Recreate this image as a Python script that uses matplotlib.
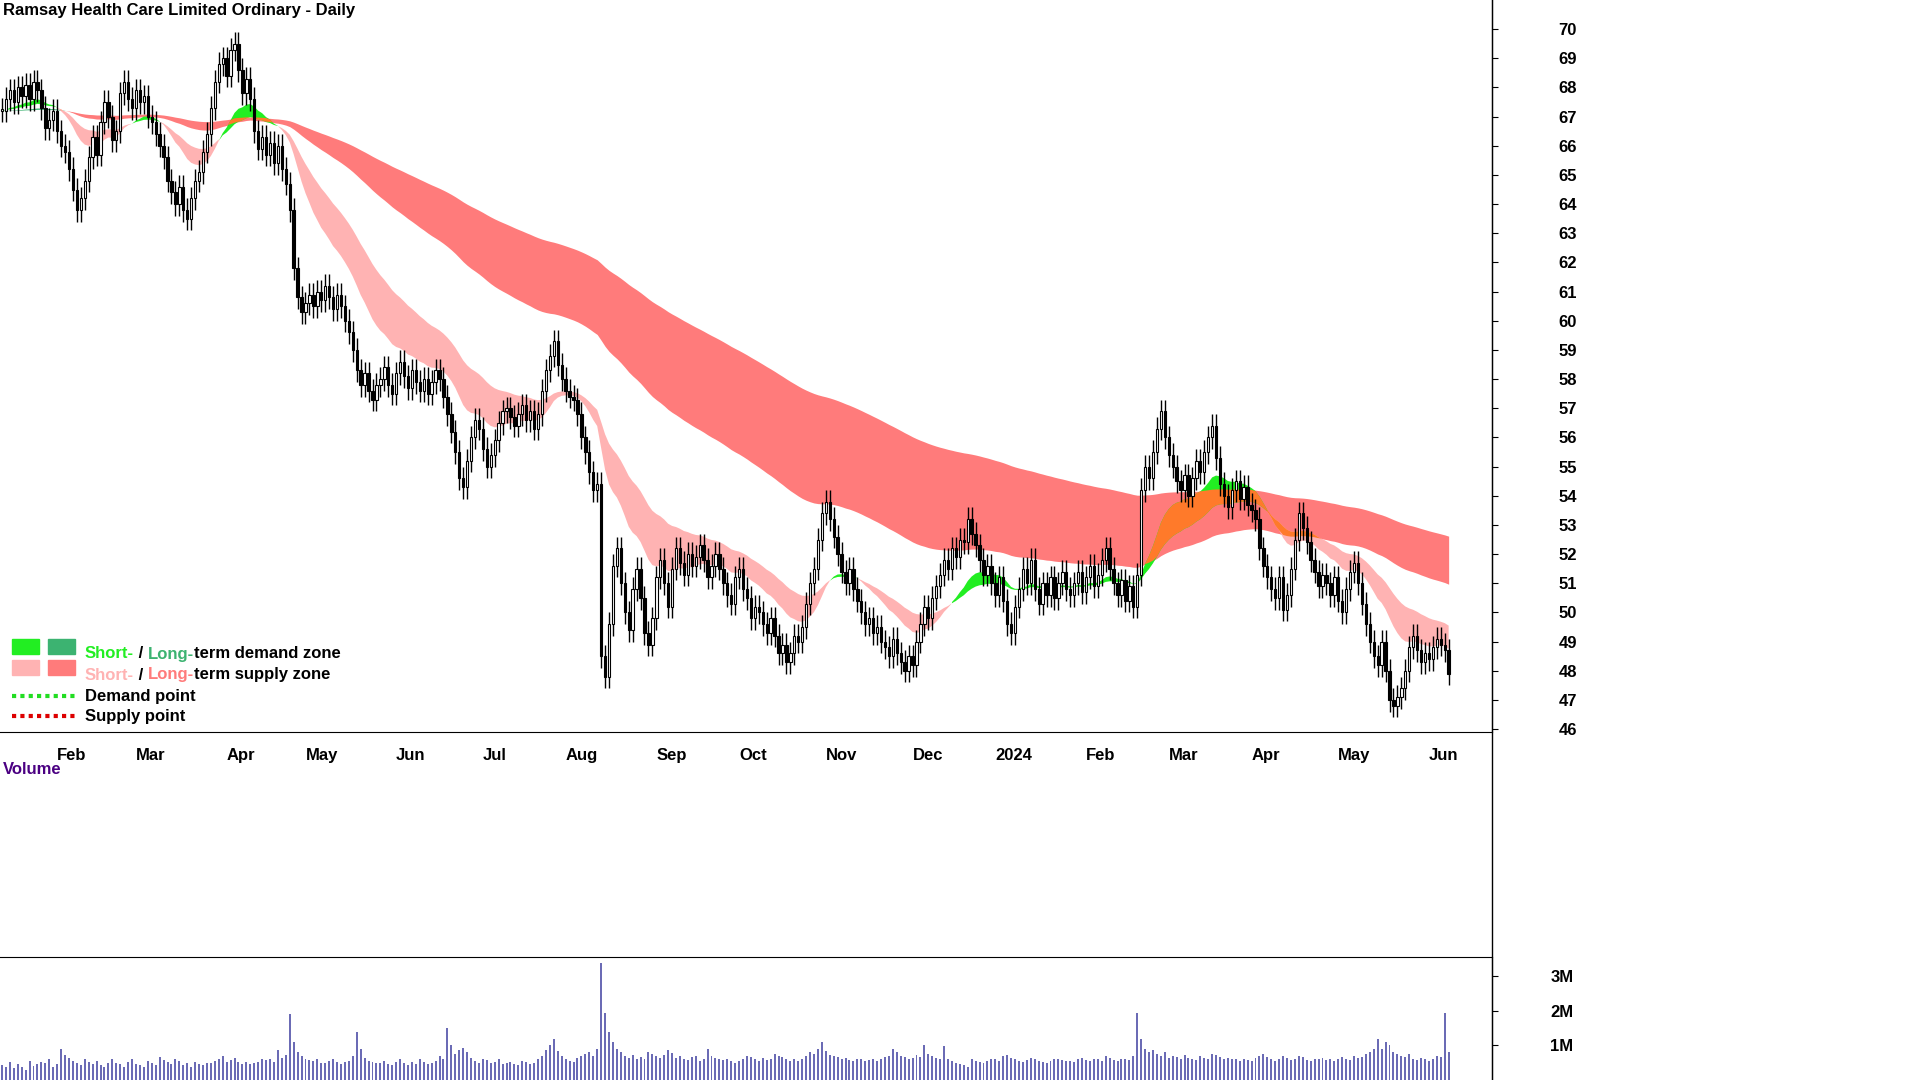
import matplotlib
matplotlib.use('Agg')
import matplotlib.pyplot as plt
from matplotlib.patches import Rectangle
import numpy as np
import pandas as pd

plt.rcParams['font.family'] = ['Liberation Sans', 'DejaVu Sans']
plt.rcParams['font.weight'] = 'bold'

# Daily closes, month by month (Jan 2023 from the 18th .. Jun 2024)
close_jan23 = [67.2, 67.6, 67.9, 67.5, 68.0, 67.7, 68.1, 67.6, 68.2, 67.9]
close_feb23 = [67.3, 66.6, 66.9, 67.2, 66.5, 66.0, 65.8, 65.2, 64.5, 63.8, 64.2, 64.8, 65.6, 66.3, 65.7,
               66.8, 67.5, 67.0, 66.2, 66.5]
close_mar23 = [67.8, 68.2, 67.6, 67.3, 67.9, 67.5, 67.7, 67.0, 66.8, 66.4, 66.0, 65.6, 64.8, 64.4, 64.0,
               64.6, 63.8, 63.5, 64.2, 64.8, 65.1, 65.8, 66.4]
close_apr23 = [67.3, 68.2, 68.8, 69.0, 68.4, 69.3, 69.5, 68.6, 67.8, 68.3, 67.6, 66.5, 65.9, 66.3, 65.7,
               66.1, 65.4, 66.0, 65.2, 64.7]
close_may23 = [63.8, 61.8, 60.8, 60.3, 60.6, 60.9, 60.5, 61.0, 60.7, 61.2, 60.8, 60.4, 60.9, 60.5, 60.0,
               59.6, 59.0, 58.3, 57.8, 58.2, 57.6, 57.3, 57.8]
close_jun23 = [58.0, 58.4, 57.8, 57.5, 58.2, 58.6, 58.1, 57.7, 58.3, 57.9, 57.6, 58.0, 57.5, 57.9, 58.3,
               58.0, 57.4, 56.8, 56.2, 55.5, 54.6, 54.3]
close_jul23 = [55.2, 56.0, 56.6, 56.3, 55.6, 55.0, 55.4, 55.9, 56.5, 56.9, 57.0, 56.7, 56.4, 56.8, 57.1,
               56.6, 56.9, 56.3, 56.8, 57.6, 58.3]
close_aug23 = [58.8, 59.3, 58.5, 58.0, 57.6, 57.4, 57.3, 56.8, 56.0, 55.5, 54.8, 54.2, 54.4, 48.5, 47.8,
               49.6, 51.6, 52.2, 51.0, 50.0, 49.4, 50.8, 51.5]
close_sep23 = [50.5, 49.3, 48.9, 49.8, 51.2, 51.8, 51.0, 50.2, 51.5, 52.2, 51.7, 51.3, 52.0, 51.6, 51.9,
               52.3, 51.8, 51.2, 51.6, 52.0, 51.5]
close_oct23 = [51.0, 50.6, 50.3, 51.2, 51.5, 50.8, 50.5, 49.8, 50.2, 50.0, 49.6, 49.3, 49.8, 49.2, 48.6,
               48.9, 48.3, 48.6, 49.2, 49.0, 49.5, 50.3]
close_nov23 = [51.0, 51.5, 52.5, 53.4, 53.8, 53.2, 52.6, 52.0, 51.4, 51.0, 51.5, 50.8, 50.4, 50.0, 49.6,
               49.8, 49.3, 49.5, 49.0, 48.8, 48.5, 49.1]
close_dec23 = [48.6, 48.3, 48.0, 48.5, 48.2, 49.0, 49.6, 50.2, 49.8, 50.5, 50.9, 51.3, 51.8, 51.5, 52.2,
               51.9, 52.5, 52.4, 53.2, 52.7, 52.3]
close_jan24 = [51.8, 51.3, 51.6, 51.0, 50.6, 51.2, 50.4, 49.6, 49.3, 50.2, 50.8, 51.5, 51.0, 51.8, 50.8,
               50.3, 51.0, 50.6, 51.2, 50.5, 51.0, 51.4, 50.8]
close_feb24 = [50.6, 51.0, 51.4, 50.7, 51.2, 51.6, 50.9, 51.3, 51.8, 52.2, 51.5, 51.0, 50.6, 51.1, 50.4,
               50.9, 50.2, 51.3, 54.2, 55.0, 54.6]
close_mar24 = [55.5, 56.3, 56.9, 56.0, 55.4, 55.0, 54.5, 54.2, 54.7, 54.0, 54.6, 55.2, 54.8, 55.5, 56.0,
               56.4, 55.3, 54.4, 54.0, 53.6, 54.2]
close_apr24 = [54.5, 53.9, 54.3, 53.7, 53.5, 53.2, 52.2, 51.6, 51.2, 50.8, 50.5, 51.2, 50.1, 50.6, 51.5,
               52.5, 53.4, 52.9, 52.4, 51.8, 51.4, 50.9]
close_may24 = [51.3, 51.0, 50.6, 51.2, 50.4, 50.0, 50.8, 51.4, 51.7, 51.0, 50.3, 49.6, 49.0, 48.5, 48.2,
               49.0, 48.0, 47.0, 46.8, 47.1, 47.4, 48.0, 48.8]
close_jun24 = [49.2, 48.7, 48.3, 48.6, 48.4, 48.8, 49.1, 48.9, 48.7, 47.9]

# Daily volume in thousands, same months
vol_jan23 = [420, 380, 510, 350, 460, 390, 300, 550, 410, 470]
vol_feb23 = [520, 480, 610, 380, 450, 900, 720, 650, 540, 480, 430, 610, 520, 470, 560, 440, 390, 500, 620, 480]
vol_mar23 = [450, 380, 520, 610, 470, 420, 390, 560, 480, 430, 670, 580, 520, 470, 610, 540, 430, 480, 390, 520,
             460, 430, 500]
vol_apr23 = [480, 560, 620, 700, 520, 580, 640, 510, 470, 530, 450, 490, 520, 610, 570, 600, 520, 880, 650, 720]
vol_may23 = [1900, 1100, 820, 700, 620, 580, 540, 610, 500, 480, 560, 620, 520, 470, 510, 560, 700, 1400, 900, 650,
             560, 520, 480]
vol_jun23 = [500, 560, 470, 430, 520, 610, 480, 440, 530, 470, 600, 520, 450, 490, 560, 700, 620, 1500, 1000, 760,
             880, 920]
vol_jul23 = [820, 650, 560, 500, 620, 580, 490, 530, 600, 450, 480, 520, 470, 430, 560, 510, 450, 490, 620, 700, 880]
vol_aug23 = [1000, 1200, 850, 700, 600, 560, 520, 640, 700, 760, 820, 700, 900, 3400, 1950, 1400, 1100, 900, 820,
             700, 650, 720, 600]
vol_sep23 = [680, 620, 800, 760, 700, 650, 720, 880, 780, 640, 700, 620, 580, 660, 700, 560, 620, 900, 700, 640, 600]
vol_oct23 = [580, 620, 540, 500, 560, 620, 700, 660, 600, 560, 640, 580, 620, 760, 700, 680, 600, 560, 620, 540,
             600, 700]
vol_nov23 = [800, 760, 900, 1100, 850, 720, 700, 660, 600, 640, 580, 560, 620, 600, 540, 580, 620, 560, 600, 660,
             700, 900]
vol_dec23 = [820, 700, 660, 600, 640, 720, 680, 1000, 760, 700, 640, 600, 980, 620, 560, 500, 460, 420, 380, 600, 560]
vol_jan24 = [520, 480, 560, 600, 620, 540, 700, 720, 640, 600, 560, 520, 580, 640, 600, 560, 520, 480, 540, 600,
             620, 580, 560]
vol_feb24 = [560, 520, 600, 640, 580, 540, 620, 600, 560, 700, 640, 580, 560, 620, 600, 580, 700, 1950, 1200, 900, 800]
vol_mar24 = [880, 760, 700, 820, 640, 700, 660, 600, 720, 640, 600, 580, 700, 640, 600, 760, 720, 660, 600, 640, 620]
vol_apr24 = [600, 560, 620, 580, 540, 640, 700, 760, 680, 620, 560, 600, 700, 640, 580, 620, 700, 660, 580, 560,
             620, 600]
vol_may24 = [640, 580, 620, 560, 600, 660, 620, 580, 700, 640, 680, 760, 820, 900, 1200, 900, 1100, 1000, 800, 760,
             700, 680, 740]
vol_jun24 = [620, 580, 640, 600, 560, 620, 700, 660, 1950, 800]

price_ticks = list(range(46, 71))
volume_ticks = [1, 2, 3]
volume_labels = ['1M', '2M', '3M']

GREEN, DGREEN, PINK, RED, ORANGE = '#22ee22', '#3cb371', '#ffb3b3', '#ff7b7b', '#ff7a2a'


def ema(values, span):
    return pd.Series(values).ewm(span=span, adjust=False).mean().to_numpy()


def main():
    close = np.array(close_jan23 + close_feb23 + close_mar23 + close_apr23 + close_may23 + close_jun23
                     + close_jul23 + close_aug23 + close_sep23 + close_oct23 + close_nov23 + close_dec23
                     + close_jan24 + close_feb24 + close_mar24 + close_apr24 + close_may24 + close_jun24)
    volume = np.array(vol_jan23 + vol_feb23 + vol_mar23 + vol_apr23 + vol_may23 + vol_jun23 + vol_jul23
                      + vol_aug23 + vol_sep23 + vol_oct23 + vol_nov23 + vol_dec23 + vol_jan24 + vol_feb24
                      + vol_mar24 + vol_apr24 + vol_may24 + vol_jun24) / 1000.0
    n = len(close)
    dates = pd.bdate_range('2023-01-18', periods=n)
    x = np.arange(n)
    opens = np.concatenate([[close[0]], close[:-1]])

    fig = plt.figure(figsize=(19.2, 10.8), dpi=100)
    W, H = 1920, 1080
    ax = fig.add_axes([0, 1 - 732 / H, 1492 / W, 732 / H])
    axv = fig.add_axes([0, 0, 1492 / W, 123 / H])

    # Zones from moving averages
    s_fast, s_slow = ema(close, 20), ema(close, 40)
    l_fast, l_slow = ema(close, 110), ema(close, 220)
    s_lo, s_hi = np.minimum(s_fast, s_slow), np.maximum(s_fast, s_slow)
    l_lo, l_hi = np.minimum(l_fast, l_slow), np.maximum(l_fast, l_slow)
    s_up = s_fast >= s_slow
    l_up = l_fast >= l_slow
    ax.fill_between(x, l_lo, l_hi, where=l_up, color=DGREEN, lw=0, interpolate=True)
    ax.fill_between(x, l_lo, l_hi, where=~l_up, color=RED, lw=0, interpolate=True)
    ax.fill_between(x, s_lo, s_hi, where=s_up, color=GREEN, lw=0, interpolate=True)
    ax.fill_between(x, s_lo, s_hi, where=~s_up, color=PINK, lw=0, interpolate=True)
    o_lo, o_hi = np.maximum(s_lo, l_lo), np.minimum(s_hi, l_hi)
    ax.fill_between(x, o_lo, o_hi, where=o_hi > o_lo, color=ORANGE, lw=0, interpolate=True)

    # Candles
    up = close >= opens
    body_lo = np.minimum(opens, close)
    body_h = np.maximum(np.abs(close - opens), 0.05)
    ax.vlines(x, body_lo - 0.4, body_lo + body_h + 0.4, color='black', lw=1, zorder=3)
    ax.bar(x[up], body_h[up], bottom=body_lo[up], width=0.6, facecolor='white', edgecolor='black', lw=0.8, zorder=4)
    ax.bar(x[~up], body_h[~up], bottom=body_lo[~up], width=0.6, facecolor='black', edgecolor='black', lw=0.8,
           zorder=4)

    ax.set_xlim(-0.5, n + 10)
    ax.set_ylim(45.9, 71.0)
    ax.yaxis.tick_right()
    ax.set_yticks(price_ticks)
    ax.tick_params(axis='y', length=4, pad=44, labelsize=12)
    ax.set_xticks([])
    for s in ['top', 'left']:
        ax.spines[s].set_visible(False)

    # Month labels
    month_start = [i for i in range(1, n) if dates[i].month != dates[i - 1].month]
    for i in month_start:
        lab = '2024' if dates[i].month == 1 else dates[i].strftime('%b')
        ax.text(i + 4, 45.35, lab, ha='left', va='top', fontsize=12, fontweight='bold', clip_on=False)

    # Volume
    axv.bar(x, volume, width=0.5, color='#6b6bb5')
    axv.set_xlim(-0.5, n + 10)
    axv.set_ylim(0, 3.56)
    axv.yaxis.tick_right()
    axv.set_yticks(volume_ticks)
    axv.set_yticklabels(volume_labels)
    axv.tick_params(axis='y', length=4, pad=38, labelsize=12)
    axv.set_xticks([])
    for s in ['left', 'bottom']:
        axv.spines[s].set_visible(False)
    fig.add_artist(plt.Line2D([1492 / W, 1492 / W], [0, 1], color='black', lw=1))
    fig.text(3 / W, 1 - 769 / H, 'Volume', color='#4b0082', fontsize=12, fontweight='bold', va='center')

    fig.text(3 / W, 1 - 11 / H, 'Ramsay Health Care Limited Ordinary - Daily', fontsize=12,
             fontweight='bold', va='center')

    # Legend
    def box(px, py, color):
        fig.add_artist(Rectangle((px / W, 1 - (py + 7) / H), 27 / W, 15 / H, color=color))
    box(12, 647, GREEN)
    box(48, 647, DGREEN)
    box(12, 668, PINK)
    box(48, 668, RED)
    fig.add_artist(plt.Line2D([12 / W, 75 / W], [1 - 696 / H] * 2, color='#22dd22', lw=3, ls=(0, (1, 1))))
    fig.add_artist(plt.Line2D([12 / W, 75 / W], [1 - 716 / H] * 2, color='#dd0000', lw=3, ls=(0, (1, 1))))
    rows = [(654, [('Short-', GREEN), (' / ', 'black'), ('Long-', DGREEN), ('term demand zone', 'black')]),
            (675, [('Short-', PINK), (' / ', 'black'), ('Long-', RED), ('term supply zone', 'black')]),
            (696, [('Demand point', 'black')]),
            (716, [('Supply point', 'black')])]
    renderer = fig.canvas.get_renderer()
    for py, parts in rows:
        px = 85
        for t, c in parts:
            txt = fig.text(px / W, 1 - py / H, t, color=c, fontsize=12, fontweight='bold', va='center')
            px += txt.get_window_extent(renderer).width

    fig.savefig('out.png', dpi=100)


if __name__ == "__main__":
    main()
